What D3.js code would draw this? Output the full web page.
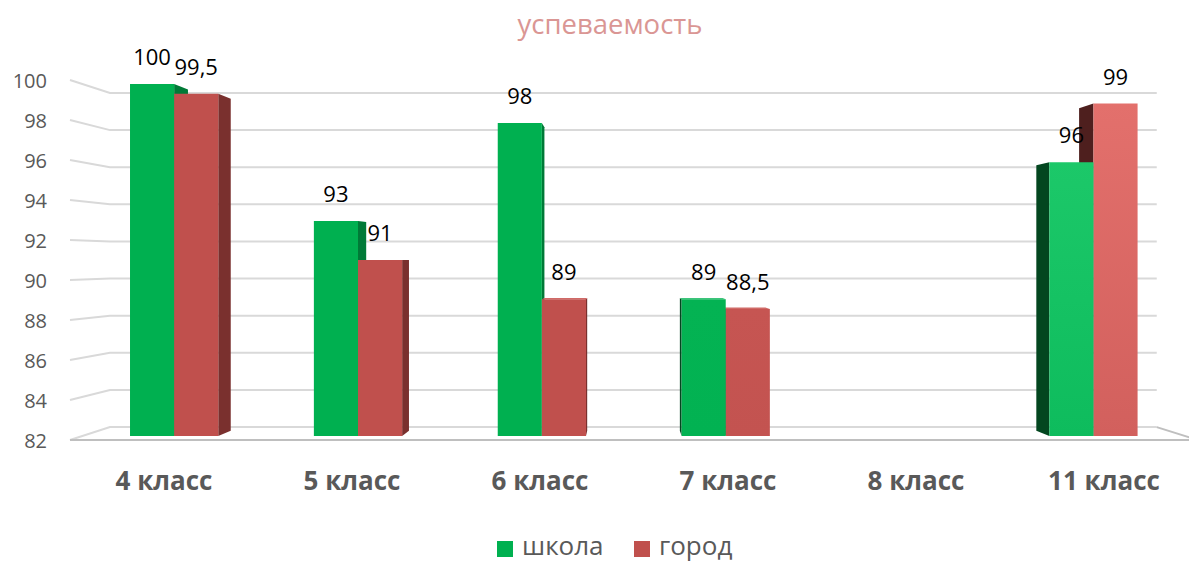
<!DOCTYPE html>
<html>
<head>
<meta charset="utf-8">
<script src="https://cdn.jsdelivr.net/npm/d3@7"></script>
<style>
  body { margin: 0; background: #fff; }
  svg text { font-family: "Open Sans", "Noto Sans", sans-serif; }
</style>
</head>
<body>
<div class="chart"></div>
<script>
// data
var categories = ["4 класс", "5 класс", "6 класс", "7 класс", "8 класс", "11 класс"];
var school     = [100, 93, 98, 89, null, 96];
var city       = [99.5, 91, 89, 88.5, null, 99];
var seriesNames = ["школа", "город"];
var tickValues  = [82, 84, 86, 88, 90, 92, 94, 96, 98, 100];

var width  = 1189,
    height = 562;

// 3d look: everything is drawn on a flat "front" plane, then pulled toward a vanishing point
var V      = { x: 625, y: 260.6 };
var kWall  = 0.928,   // back wall
    kFront = 0.978,   // bars front face
    kBack  = 0.948;   // bars back face

function proj(wx, wy, k) {
  return [V.x + k * (wx - V.x), V.y + k * (wy - V.y)];
}

var x = d3.scaleBand().domain(categories).range([70, 1198]);
var y = d3.scaleLinear().domain([82, 100]).range([440, 80]);
var barW = x.bandwidth() * 0.24;

var colors = {
  front: ["#00B050", "#C0504D"],
  light: ["#1FCB6C", "#E3706C"],
  sideR: ["#007A37", "#7A302E"],
  sideL: ["#03461F", "#4E1F1E"],
  top:   ["#3CC47A", "#D06A67"]
};

var svg = d3.select(".chart")
            .append("svg")
            .attr("width", width)
            .attr("height", height);

var defs = svg.append("defs");

// title
svg.append("text")
   .attr("x", 610)
   .attr("y", 34)
   .attr("text-anchor", "middle")
   .attr("font-size", 27.5)
   .attr("fill", "#DA9694")
   .text("успеваемость");

// left wall + back wall gridlines
var grid = svg.append("g");
tickValues.forEach(function (t) {
  var a = proj(70, y(t), 1),
      b = proj(70, y(t), kWall),
      c = proj(1198, y(t), kWall);
  grid.append("polyline")
      .attr("points", [a, b, c].map(function (p) { return p.join(","); }).join(" "))
      .attr("fill", "none")
      .attr("stroke", "#D9D9D9")
      .attr("stroke-width", 2);
});

// floor edges
var f1 = proj(70, y(82), 1), f2 = proj(1198, y(82), 1), f3 = proj(1198, y(82), kWall);
grid.append("polyline")
    .attr("points", [f1, f2, f3].map(function (p) { return p.join(","); }).join(" "))
    .attr("fill", "none")
    .attr("stroke", "#BFBFBF")
    .attr("stroke-width", 2);

// tick labels
svg.append("g").selectAll("text")
   .data(tickValues)
   .enter()
   .append("text")
   .attr("x", 47)
   .attr("y", function (d) { return y(d) + 1; })
   .attr("dy", "0.35em")
   .attr("text-anchor", "end")
   .attr("font-size", 20)
   .attr("fill", "#595959")
   .text(function (d) { return d; });

// category labels
svg.append("g").selectAll("text")
   .data(categories)
   .enter()
   .append("text")
   .attr("x", function (d) { return x(d) + x.bandwidth() / 2; })
   .attr("y", 490)
   .attr("text-anchor", "middle")
   .attr("font-size", 26)
   .attr("font-weight", "bold")
   .attr("fill", "#595959")
   .text(function (d) { return d; });

// bars
var bars = [];
categories.forEach(function (c, i) {
  [school[i], city[i]].forEach(function (v, s) {
    if (v == null) return;
    var cx = x(c) + x.bandwidth() / 2;
    var x0 = cx - barW + s * barW;
    bars.push({ cat: c, s: s, v: v, x0: x0, x1: x0 + barW, id: "g" + i + "_" + s });
  });
});

// farthest from the vanishing point first
bars.sort(function (a, b) {
  return Math.abs((b.x0 + b.x1) / 2 - V.x) - Math.abs((a.x0 + a.x1) / 2 - V.x);
});

var barLayer = svg.append("g");

function poly(pts) {
  return pts.map(function (p) { return p.join(","); }).join(" ");
}

bars.forEach(function (d) {
  var top = y(d.v), bot = y(82);
  var s = d.s;

  // a bit of lighting that gets stronger to the right
  var mid = proj((d.x0 + d.x1) / 2, top, kFront)[0];
  var t = Math.max(0, (mid - 500) / 600);
  t = Math.min(1, t * t);
  var cTop = d3.interpolateRgb(colors.front[s], colors.light[s])(t);
  var cBot = d3.interpolateRgb(colors.front[s], colors.light[s])(t * 0.5);

  var grad = defs.append("linearGradient")
                 .attr("id", d.id)
                 .attr("x1", 0).attr("y1", 0).attr("x2", 0).attr("y2", 1);
  grad.append("stop").attr("offset", "0%").attr("stop-color", cTop);
  grad.append("stop").attr("offset", "100%").attr("stop-color", cBot);

  if (d.x1 < V.x) {
    barLayer.append("polygon")
            .attr("points", poly([proj(d.x1, top, kFront), proj(d.x1, top, kBack),
                                  proj(d.x1, bot, kBack), proj(d.x1, bot, kFront)]))
            .attr("fill", colors.sideR[s]);
  } else if (d.x0 > V.x) {
    barLayer.append("polygon")
            .attr("points", poly([proj(d.x0, top, kFront), proj(d.x0, top, kBack),
                                  proj(d.x0, bot, kBack), proj(d.x0, bot, kFront)]))
            .attr("fill", colors.sideL[s]);
  }
  if (top > V.y) {
    barLayer.append("polygon")
            .attr("points", poly([proj(d.x0, top, kFront), proj(d.x1, top, kFront),
                                  proj(d.x1, top, kBack), proj(d.x0, top, kBack)]))
            .attr("fill", colors.top[s]);
  }
  barLayer.append("polygon")
          .attr("points", poly([proj(d.x0, top, kFront), proj(d.x1, top, kFront),
                                proj(d.x1, bot, kFront), proj(d.x0, bot, kFront)]))
          .attr("fill", "url(#" + d.id + ")");
});

// data labels
svg.append("g").selectAll("text")
   .data(bars)
   .enter()
   .append("text")
   .attr("x", function (d) { return proj((d.x0 + d.x1) / 2, y(d.v), kFront)[0]; })
   .attr("y", function (d) { return proj((d.x0 + d.x1) / 2, y(d.v), kFront)[1] - 19; })
   .attr("text-anchor", "middle")
   .attr("font-size", 22)
   .attr("fill", "#000")
   .text(function (d) { return String(d.v).replace(".", ","); });

// legend
var legend = svg.append("g");
var legendX = [497, 634];
seriesNames.forEach(function (name, i) {
  legend.append("rect")
        .attr("x", legendX[i])
        .attr("y", 541)
        .attr("width", 16)
        .attr("height", 16)
        .attr("fill", colors.front[i]);
  legend.append("text")
        .attr("x", legendX[i] + 25)
        .attr("y", 555)
        .attr("font-size", 26)
        .attr("fill", "#595959")
        .text(name);
});
</script>
</body>
</html>
